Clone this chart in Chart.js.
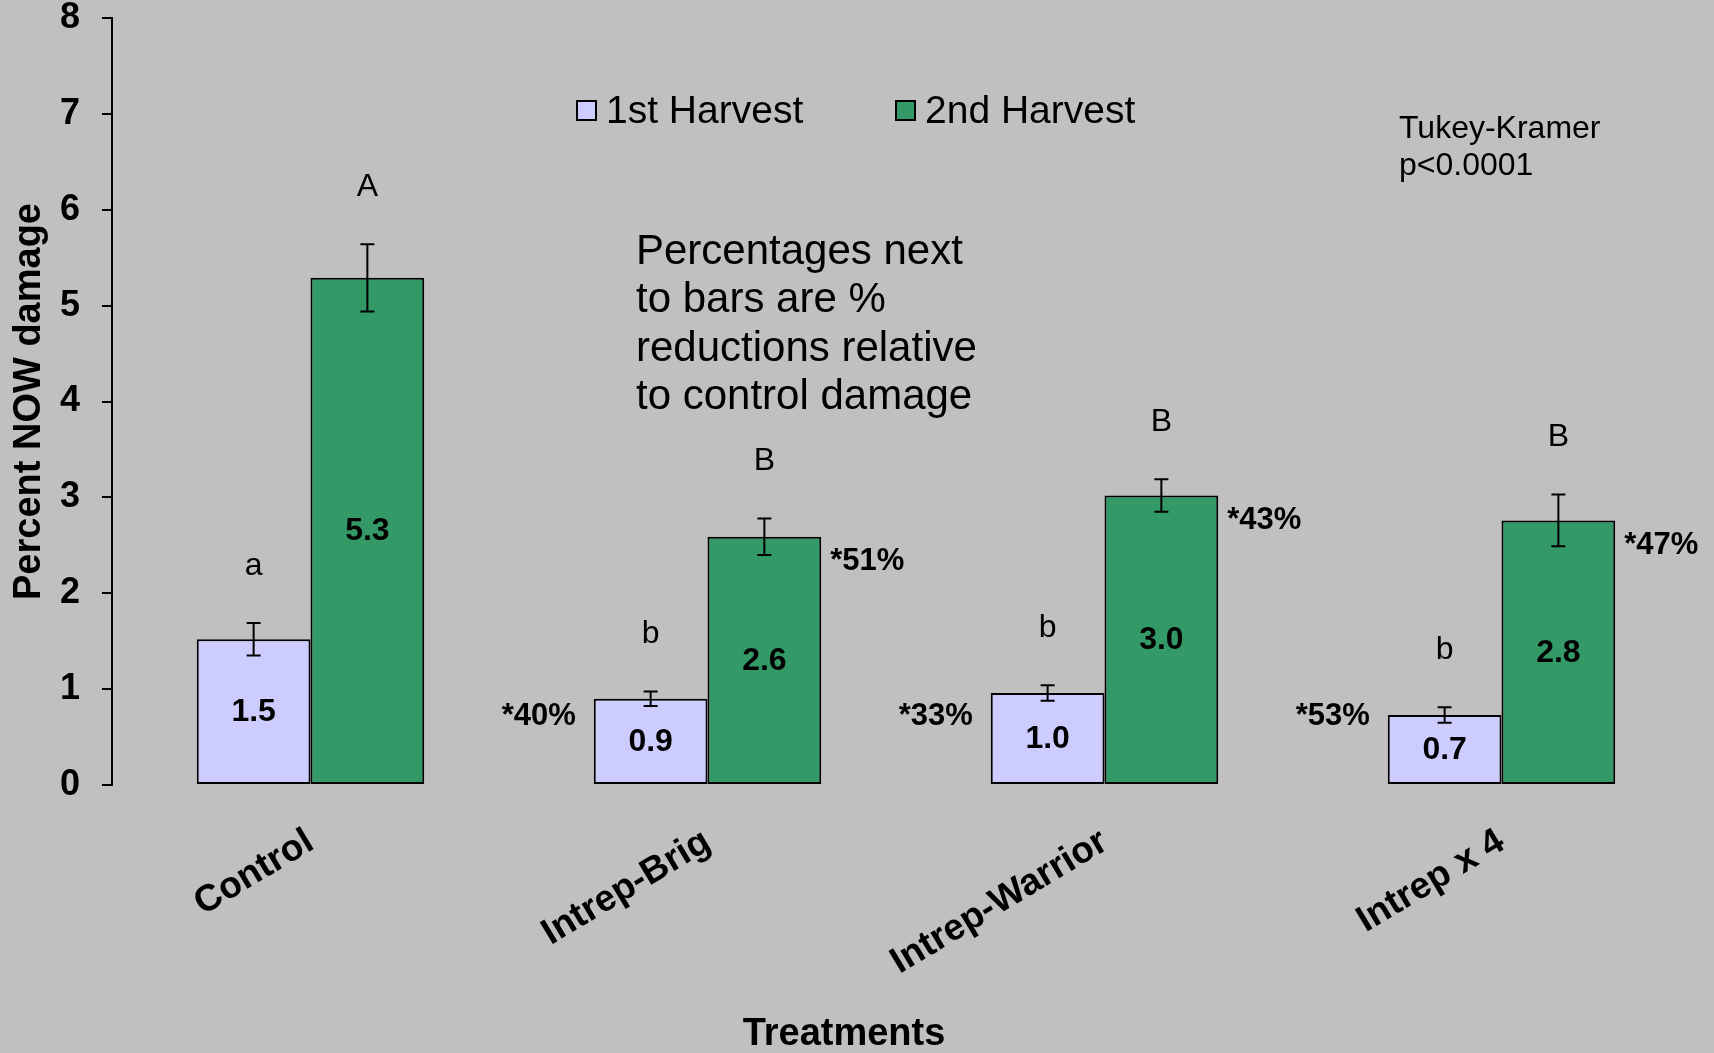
<!DOCTYPE html>
<html>
<head>
<meta charset="utf-8">
<script src="https://cdn.jsdelivr.net/npm/chart.js@4.4.1/dist/chart.umd.min.js"></script>
<style>
  html, body { margin: 0; padding: 0; background: #C0C0C0; }
  #wrap { width: 1714px; height: 1053px; }
</style>
</head>
<body>
<div id="wrap"><canvas id="myChart" width="1714" height="1053"></canvas></div>
<script>
// data
var categories = ['Control', 'Intrep-Brig', 'Intrep-Warrior', 'Intrep x 4'];
var harvest1 = [1.52, 0.90, 0.96, 0.73];
var harvest2 = [5.29, 2.59, 3.02, 2.76];
var harvest1Err = [0.17, 0.075, 0.08, 0.08];
var harvest2Err = [0.35, 0.19, 0.17, 0.27];
var harvest1Labels = ['1.5', '0.9', '1.0', '0.7'];
var harvest2Labels = ['5.3', '2.6', '3.0', '2.8'];
var harvest1Letters = ['a', 'b', 'b', 'b'];
var harvest2Letters = ['A', 'B', 'B', 'B'];
var harvest1Reduction = ['', '*40%', '*33%', '*53%'];
var harvest2Reduction = ['', '*51%', '*43%', '*47%'];
var seriesNames = ['1st Harvest', '2nd Harvest'];
var noteLines = ['Percentages next', 'to bars are %', 'reductions relative', 'to control damage'];
var statLines = ['Tukey-Kramer', 'p<0.0001'];
var xTitle = 'Treatments';

var FONT = '"Liberation Sans", Arial, sans-serif';
var colors = ['#CCCCFF', '#339966'];

var extras = {
  id: 'extras',
  afterDatasetsDraw: function(chart) {
    var ctx = chart.ctx;
    var y = chart.scales.y;
    var errs = [harvest1Err, harvest2Err];
    var vals = [harvest1, harvest2];
    var labs = [harvest1Labels, harvest2Labels];
    var lets = [harvest1Letters, harvest2Letters];
    ctx.save();
    for (var d = 0; d < 2; d++) {
      var meta = chart.getDatasetMeta(d);
      meta.data.forEach(function(bar, i) {
        var v = vals[d][i], e = errs[d][i];
        var yt = y.getPixelForValue(v + e), yb = y.getPixelForValue(v - e);
        // error bar
        ctx.strokeStyle = '#000';
        ctx.lineWidth = 2;
        ctx.beginPath();
        ctx.moveTo(bar.x, yt); ctx.lineTo(bar.x, yb);
        ctx.moveTo(bar.x - 7, yt); ctx.lineTo(bar.x + 7, yt);
        ctx.moveTo(bar.x - 7, yb); ctx.lineTo(bar.x + 7, yb);
        ctx.stroke();
        ctx.fillStyle = '#000';
        ctx.textAlign = 'center';
        ctx.textBaseline = 'middle';
        // value inside bar
        ctx.font = 'bold 32px ' + FONT;
        ctx.fillText(labs[d][i], bar.x, y.getPixelForValue(v / 2));
        // letter above
        ctx.font = '32px ' + FONT;
        ctx.fillText(lets[d][i], bar.x, yt - 57);
        // reduction text
        ctx.font = 'bold 31px ' + FONT;
        var half = bar.width / 2;
        if (d === 0 && harvest1Reduction[i]) {
          ctx.textAlign = 'right';
          ctx.fillText(harvest1Reduction[i], bar.x - half - 18, y.getPixelForValue(0.71));
        }
        if (d === 1 && harvest2Reduction[i]) {
          ctx.textAlign = 'left';
          ctx.fillText(harvest2Reduction[i], bar.x + half + 9, bar.y + 25);
        }
      });
    }
    // legend
    ctx.font = '39px ' + FONT;
    ctx.textAlign = 'left';
    ctx.textBaseline = 'middle';
    var lx = [577, 896];
    for (var k = 0; k < 2; k++) {
      ctx.fillStyle = colors[k];
      ctx.fillRect(lx[k], 101, 19, 19);
      ctx.lineWidth = 2;
      ctx.strokeStyle = '#000';
      ctx.strokeRect(lx[k], 101, 19, 19);
      ctx.fillStyle = '#000';
      ctx.fillText(seriesNames[k], lx[k] + 29, 112);
    }
    // notes
    ctx.font = '42px ' + FONT;
    noteLines.forEach(function(t, i) { ctx.fillText(t, 636, 252 + i * 48.5); });
    ctx.font = '32px ' + FONT;
    statLines.forEach(function(t, i) { ctx.fillText(t, 1399, 129 + i * 37); });
    // x axis title
    ctx.font = 'bold 38px ' + FONT;
    ctx.textAlign = 'center';
    ctx.fillText(xTitle, 844, 1035);
    ctx.restore();
  }
};

var ctx = document.getElementById('myChart').getContext('2d');
var myChart = new Chart(ctx, {
  type: 'bar',
  data: {
    labels: categories,
    datasets: [{
      label: seriesNames[0],
      data: harvest1,
      backgroundColor: colors[0],
      borderColor: '#000',
      borderWidth: 2,
      borderSkipped: false
    }, {
      label: seriesNames[1],
      data: harvest2,
      backgroundColor: colors[1],
      borderColor: '#000',
      borderWidth: 2,
      borderSkipped: false
    }]
  },
  options: {
    responsive: false,
    animation: false,
    layout: { padding: { top: 18, right: 14, bottom: 0, left: 0 } },
    datasets: { bar: { categoryPercentage: 0.573, barPercentage: 1.0 } },
    plugins: { legend: { display: false }, tooltip: { enabled: false } },
    scales: {
      x: {
        grid: { display: false },
        border: { display: false },
        ticks: {
          color: '#000',
          font: { family: FONT, size: 37, weight: 'bold' },
          minRotation: 31, maxRotation: 31,
          padding: 27
        },
        afterFit: function(s) { s.height = 268; s.paddingTop = 0; s.paddingBottom = 0; }
      },
      y: {
        min: 0, max: 8,
        grid: { drawOnChartArea: false, drawTicks: true, tickLength: 10, color: '#000', lineWidth: 2 },
        border: { display: true, color: '#000', width: 2 },
        ticks: {
          stepSize: 1,
          color: '#000',
          padding: 22,
          font: { family: FONT, size: 36, weight: 'bold' }
        },
        title: {
          display: true,
          text: 'Percent NOW damage',
          color: '#000',
          font: { family: FONT, size: 38, weight: 'bold' },
          padding: { top: 7, bottom: 0 }
        },
        afterFit: function(s) { s.width = 112; s.paddingTop = 0; s.paddingBottom = 0; }
      }
    }
  },
  plugins: [extras]
});
</script>
</body>
</html>
